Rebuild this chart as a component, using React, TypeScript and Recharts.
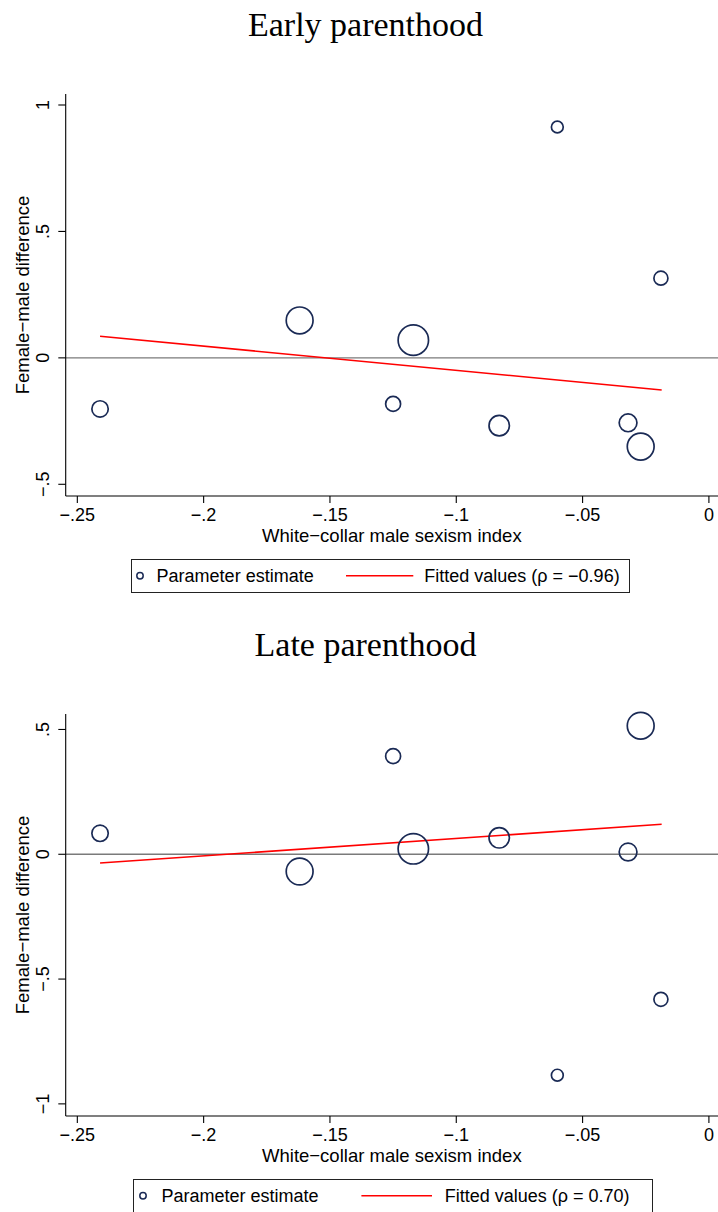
import React from "react";
import {
  ScatterChart,
  Scatter,
  XAxis,
  YAxis,
  ZAxis,
  ReferenceLine,
  Legend,
} from "recharts";

// ---- data ----
const sexismIndex = [-0.241, -0.162, -0.117, -0.125, -0.083, -0.06, -0.032, -0.027, -0.019];
const weights = [67, 180, 231, 56, 104, 35, 79, 180, 49];
const earlyDiff = [-0.202, 0.148, 0.07, -0.182, -0.268, 0.913, -0.257, -0.351, 0.315];
const lateDiff = [0.084, -0.069, 0.022, 0.393, 0.066, -0.885, 0.009, 0.515, -0.581];

const fitX = [-0.241, -0.0187];
const earlyFit = [0.0855, -0.127];
const lateFit = [-0.035, 0.12];

const xTicks = [-0.25, -0.2, -0.15, -0.1, -0.05, 0];
const xTickLabels = ["\u2212.25", "\u2212.2", "\u2212.15", "\u2212.1", "\u2212.05", "0"];
const earlyYTicks = [-0.5, 0, 0.5, 1];
const earlyYTickLabels = ["\u2212.5", "0", ".5", "1"];
const lateYTicks = [-1, -0.5, 0, 0.5];
const lateYTickLabels = ["\u22121", "\u2212.5", "0", ".5"];

const xDomain = [-0.2546, 0.0036];
const earlyYDomain = [-0.5463, 1.0435];
const lateYDomain = [-1.0486, 0.562];

const titles = ["Early parenthood", "Late parenthood"];
const xTitle = "White\u2212collar male sexism index";
const yTitle = "Female\u2212male difference";
const legendPoint = "Parameter estimate";
const legendFits = ["Fitted values (\u03c1 = \u22120.96)", "Fitted values (\u03c1 = 0.70)"];

// ---- styles ----
const SANS = "'Liberation Sans', Arial, Helvetica, sans-serif";
const SERIF = "'Liberation Serif', 'Times New Roman', serif";
const NAVY = "#1a2a55";
const RED = "#ff0000";

const PANEL_H = 620;
const W = 718;

function makePoints(ys: number[]) {
  return sexismIndex.map((x, i) => ({ x, y: ys[i], w: weights[i] }));
}
function makeFit(ys: number[]) {
  return fitX.map((x, i) => ({ x, y: ys[i] }));
}

const PointShape = (p: any) => {
  const r = p.width ? p.width / 2 : Math.sqrt((p.size || 0) / Math.PI);
  return <circle cx={p.cx} cy={p.cy} r={r} fill="none" stroke={NAVY} strokeWidth={1.7} />;
};

const NoShape = () => <g />;

const makeXTick = (ticks: number[], labels: string[]) => (props: any) => {
  const i = ticks.findIndex((t) => Math.abs(t - props.payload.value) < 1e-9);
  return (
    <text x={props.x} y={props.y + 18} textAnchor="middle" fontSize={18} fontFamily={SANS} fill="#000">
      {labels[i]}
    </text>
  );
};

const makeYTick = (ticks: number[], labels: string[]) => (props: any) => {
  const i = ticks.findIndex((t) => Math.abs(t - props.payload.value) < 1e-9);
  return (
    <text
      x={0}
      y={0}
      transform={`translate(${props.x - 9}, ${props.y}) rotate(-90)`}
      textAnchor="middle"
      fontSize={18}
      fontFamily={SANS}
      fill="#000"
    >
      {labels[i]}
    </text>
  );
};

const XTitle = (props: any) => {
  const vb = props.viewBox || { x: 65.7, y: 496, width: 652.3 };
  return (
    <text x={vb.x + vb.width / 2} y={vb.y + 45.7} textAnchor="middle" fontSize={18.5} fontFamily={SANS} fill="#000">
      {xTitle}
    </text>
  );
};

const YTitle = (props: any) => {
  const vb = props.viewBox || { y: 94, height: 402 };
  return (
    <text
      x={0}
      y={0}
      transform={`translate(29.3, ${vb.y + vb.height / 2}) rotate(-90)`}
      textAnchor="middle"
      fontSize={18.5}
      fontFamily={SANS}
      fill="#000"
    >
      {yTitle}
    </text>
  );
};

type LegendCfg = {
  width: number;
  text1: number;
  line1: number;
  line2: number;
  text2: number;
};

const LegendBox = ({ cfg, fitLabel }: { cfg: LegendCfg; fitLabel: string }) => {
  const H = 33.4;
  const cy = H / 2;
  return (
    <div
      style={{
        width: cfg.width,
        height: H,
        border: "1.3px solid #222",
        boxSizing: "border-box",
        background: "#fff",
        position: "relative",
      }}
    >
      <svg width={cfg.width} height={H} style={{ position: "absolute", left: -1.3, top: -1.3, overflow: "visible" }}>
        <circle cx={10} cy={cy} r={3.2} fill="none" stroke={NAVY} strokeWidth={1.5} />
        <text x={cfg.text1} y={cy + 6.4} fontSize={18} fontFamily={SANS} fill="#000">
          {legendPoint}
        </text>
        <line x1={cfg.line1} x2={cfg.line2} y1={cy} y2={cy} stroke={RED} strokeWidth={1.5} />
        <text x={cfg.text2} y={cy + 6.4} fontSize={18} fontFamily={SANS} fill="#000">
          {fitLabel}
        </text>
      </svg>
    </div>
  );
};

type PanelProps = {
  top: number;
  title: string;
  points: { x: number; y: number; w: number }[];
  fit: { x: number; y: number }[];
  yDomain: number[];
  yTicks: number[];
  yTickLabels: string[];
  legendLeft: number;
  legendCfg: LegendCfg;
  fitLabel: string;
};

const Panel = (p: PanelProps) => (
  <div style={{ position: "absolute", left: 0, top: p.top, width: W, height: PANEL_H }}>
    <svg width={W} height={60} style={{ position: "absolute", left: 0, top: 0 }}>
      <text x={365.5} y={36} textAnchor="middle" fontSize={34} fontFamily={SERIF} fill="#000">
        {p.title}
      </text>
    </svg>
    <div style={{ position: "absolute", left: 0, top: 0 }}>
      <ScatterChart width={W} height={PANEL_H} margin={{ top: 94, right: 0, bottom: 64, left: 5.7 }}>
        <XAxis
          type="number"
          dataKey="x"
          domain={xDomain}
          ticks={xTicks}
          interval={0}
          height={60}
          tickSize={7}
          tickMargin={0}
          stroke="#000"
          strokeWidth={1.1}
          tickLine={{ stroke: "#000", strokeWidth: 1.1 }}
          tick={makeXTick(xTicks, xTickLabels)}
          label={XTitle}
        />
        <YAxis
          type="number"
          dataKey="y"
          domain={p.yDomain}
          ticks={p.yTicks}
          interval={0}
          width={60}
          tickSize={7.4}
          tickMargin={0}
          stroke="#000"
          strokeWidth={1.1}
          tickLine={{ stroke: "#000", strokeWidth: 1.1 }}
          tick={makeYTick(p.yTicks, p.yTickLabels)}
          label={YTitle}
        />
        <ZAxis type="number" dataKey="w" domain={[0, 300]} range={[0, 300 * Math.PI]} />
        <ReferenceLine y={0} stroke="#7a7a7a" strokeWidth={1.3} />
        <Scatter
          data={p.fit}
          shape={NoShape}
          line={{ stroke: RED, strokeWidth: 1.6 }}
          lineType="joint"
          isAnimationActive={false}
          legendType="none"
        />
        <Scatter data={p.points} shape={PointShape} isAnimationActive={false} />
        <Legend
          layout="horizontal"
          verticalAlign="middle"
          align="center"
          content={() => <LegendBox cfg={p.legendCfg} fitLabel={p.fitLabel} />}
          wrapperStyle={{ position: "absolute", left: p.legendLeft, top: 559.3, width: p.legendCfg.width, height: 33.4 }}
        />
      </ScatterChart>
    </div>
  </div>
);

export default function App() {
  return (
    <div
      style={{
        position: "absolute",
        left: 0,
        top: 0,
        width: W,
        height: 1212,
        overflow: "hidden",
        background: "#fff",
      }}
    >
      <Panel
        top={0}
        title={titles[0]}
        points={makePoints(earlyDiff)}
        fit={makeFit(earlyFit)}
        yDomain={earlyYDomain}
        yTicks={earlyYTicks}
        yTickLabels={earlyYTickLabels}
        legendLeft={130.7}
        legendCfg={{ width: 499.3, text1: 26.6, line1: 216, line2: 283.3, text2: 294.3 }}
        fitLabel={legendFits[0]}
      />
      <Panel
        top={620}
        title={titles[1]}
        points={makePoints(lateDiff)}
        fit={makeFit(lateFit)}
        yDomain={lateYDomain}
        yTicks={lateYTicks}
        yTickLabels={lateYTickLabels}
        legendLeft={133.3}
        legendCfg={{ width: 519.3, text1: 28.4, line1: 228.4, line2: 299, text2: 311.7 }}
        fitLabel={legendFits[1]}
      />
    </div>
  );
}
